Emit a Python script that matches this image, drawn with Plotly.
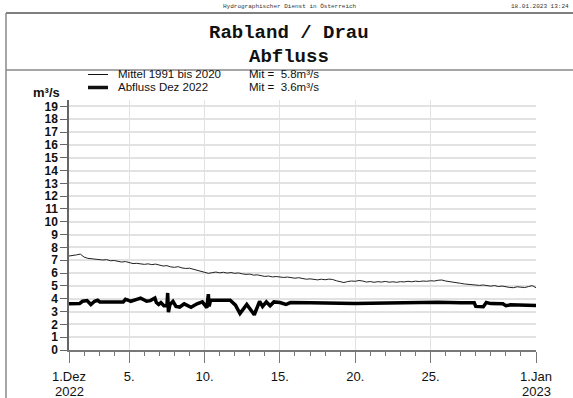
import pandas as pd
import plotly.graph_objects as go

# ---- data -------------------------------------------------------------
start = pd.Timestamp("2022-12-01")

# long-term mean 1991-2020, one value every 6 hours (days since 1 Dec)
mittel_step = 0.25
mittel_vals = [
    7.33, 7.35, 7.42, 7.48, 7.25, 7.15, 7.12, 7.08, 7.10, 7.02, 7.05, 6.96,
    6.98, 6.90, 6.86, 6.90, 6.80, 6.74, 6.76, 6.70, 6.68, 6.72, 6.66, 6.70,
    6.62, 6.55, 6.58, 6.48, 6.45, 6.50, 6.40, 6.36, 6.38, 6.30, 6.26, 6.20,
    6.12, 5.98, 6.03, 6.08, 6.02, 6.06, 6.00, 6.04, 5.98, 6.01, 5.94, 5.90,
    5.92, 5.84, 5.86, 5.78, 5.74, 5.77, 5.70, 5.73, 5.70, 5.66, 5.69, 5.62,
    5.60, 5.64, 5.56, 5.52, 5.55, 5.50, 5.47, 5.52, 5.48, 5.53, 5.50, 5.40,
    5.32, 5.26, 5.34, 5.38, 5.36, 5.42, 5.38, 5.30, 5.34, 5.28, 5.33, 5.30,
    5.35, 5.29, 5.32, 5.28, 5.33, 5.31, 5.36, 5.32, 5.37, 5.34, 5.38, 5.36,
    5.40, 5.38, 5.44, 5.46, 5.38, 5.32, 5.28, 5.24, 5.20, 5.15, 5.12, 5.08,
    5.10, 5.04, 5.07, 5.00, 4.98, 5.03, 4.95, 4.99, 4.92, 4.88, 4.86, 4.93,
    4.90, 4.87, 4.95, 5.02, 4.86,
]

# discharge December 2022 (days since 1 Dec, m³/s)
abfluss_days = [
    0.0, 0.7, 0.9, 1.2, 1.45, 1.7, 1.9, 2.05, 3.6, 3.75, 4.0, 4.1, 4.5, 4.75,
    5.0, 5.15, 5.4, 5.55, 5.7, 5.8, 5.95, 6.1, 6.3, 6.5, 6.55, 6.6, 6.7, 6.9,
    7.1, 7.35, 7.65, 8.1, 8.5, 8.85, 9.15, 9.25, 9.3, 9.4, 10.7, 11.05, 11.35,
    11.8, 12.3, 12.65, 12.85, 13.1, 13.35, 13.6, 14.0, 14.4, 14.7, 16.0, 17.0,
    18.0, 19.0, 20.0, 21.0, 22.0, 23.0, 23.5, 24.5, 26.0, 26.9, 27.0, 27.5,
    27.7, 28.0, 28.8, 29.0, 29.3, 31.0,
]
abfluss_vals = [
    3.60, 3.62, 3.80, 3.85, 3.55, 3.80, 3.88, 3.75, 3.75, 3.95, 3.85, 3.80,
    3.95, 4.05, 3.90, 3.80, 3.85, 3.95, 4.05, 3.70, 3.55, 3.70, 3.45, 3.45,
    4.45, 2.95, 3.55, 3.80, 3.40, 3.35, 3.60, 3.33, 3.60, 3.75, 3.30, 4.35,
    3.40, 3.90, 3.88, 3.50, 2.85, 3.55, 2.75, 3.80, 3.40, 3.75, 3.45, 3.75,
    3.70, 3.55, 3.70, 3.68, 3.65, 3.62, 3.62, 3.65, 3.68, 3.70, 3.72, 3.75,
    3.72, 3.68, 3.68, 3.40, 3.38, 3.70, 3.62, 3.60, 3.45, 3.52, 3.48,
]

tick_days = [0, 4, 9, 14, 19, 24, 31]
tick_text = ["1.Dez", "5.", "10.", "15.", "20.", "25.", "1.Jan"]
year_labels = [(0, "2022"), (31, "2023")]

legend_rows = [
    ("Mittel 1991 bis 2020", "Mit =  5.8m³/s", 1),
    ("Abfluss Dez 2022", "Mit =  3.6m³/s", 3.5),
]

# ---- geometry ---------------------------------------------------------
W, H = 573, 398
L, R, T, B = 69, 37, 100, 48
PW, PH = W - L - R, H - T - B


def px(x):
    return (x - L) / PW


def py(y):
    return (H - B - y) / PH


mittel_x = [start + pd.Timedelta(days=i * mittel_step) for i in range(len(mittel_vals))]
abfluss_x = [start + pd.Timedelta(days=d) for d in abfluss_days]
tick_x = [start + pd.Timedelta(days=d) for d in tick_days]

fig = go.Figure()
fig.add_trace(go.Scatter(x=mittel_x, y=mittel_vals, mode="lines",
                         line=dict(color="#222", width=1), hoverinfo="skip"))
fig.add_trace(go.Scatter(x=abfluss_x, y=abfluss_vals, mode="lines",
                         line=dict(color="#000", width=3.5), hoverinfo="skip"))

shapes = [
    dict(type="line", xref="paper", yref="paper", x0=px(6), x1=px(W + 5),
         y0=py(13), y1=py(13), line=dict(color="#555", width=1.5)),
    dict(type="line", xref="paper", yref="paper", x0=px(6), x1=px(W + 5),
         y0=py(70), y1=py(70), line=dict(color="#888", width=1.5)),
    dict(type="line", xref="paper", yref="paper", x0=px(6), x1=px(6),
         y0=py(13), y1=py(H + 5), line=dict(color="#888", width=1.5)),
]

ann = [
    dict(text="Hydrographischer Dienst in Österreich", x=px(290), y=py(6),
         font=dict(family="Liberation Mono", size=6, color="#333")),
    dict(text="18.01.2023 13:24", x=px(571), y=py(6), xanchor="right",
         font=dict(family="Liberation Mono", size=6, color="#333")),
    dict(text="<b>Rabland / Drau</b>", x=px(289), y=py(33),
         font=dict(family="Liberation Mono", size=19, color="#111")),
    dict(text="<b>Abfluss</b>", x=px(289), y=py(57),
         font=dict(family="Liberation Mono", size=19, color="#111")),
    dict(text="<b>m³/s</b>", x=px(31), y=py(92), xanchor="left",
         font=dict(family="Liberation Sans", size=13, color="#111")),
]

for i, (name, mean_txt, lw) in enumerate(legend_rows):
    yy = 74.5 + i * 13
    shapes.append(dict(type="line", xref="paper", yref="paper", x0=px(88), x1=px(108),
                       y0=py(yy), y1=py(yy), line=dict(color="#111", width=lw)))
    ann.append(dict(text=name, x=px(116), y=py(yy), xanchor="left",
                    font=dict(family="Liberation Sans", size=11.5, color="#111")))
    ann.append(dict(text=mean_txt, x=px(247), y=py(yy), xanchor="left",
                    font=dict(family="Liberation Sans", size=11.5, color="#111")))

for a in ann:
    a.update(xref="paper", yref="paper", showarrow=False, yanchor="middle")
    a.setdefault("xanchor", "center")

# year line under the first and last date tick
for d, yr in year_labels:
    ann.append(dict(text=yr, x=start + pd.Timedelta(days=d), y=py(391),
                    xref="x", yref="paper", showarrow=False,
                    xanchor="center", yanchor="middle",
                    font=dict(family="Liberation Sans", size=13, color="#111")))

fig.update_layout(
    width=W, height=H,
    margin=dict(l=L, r=R, t=T, b=B, autoexpand=False),
    paper_bgcolor="white", plot_bgcolor="white",
    showlegend=False,
    shapes=shapes, annotations=ann,
    xaxis=dict(
        type="date", automargin=False,
        range=[start, start + pd.Timedelta(days=31)],
        tickmode="array", tickvals=tick_x, ticktext=tick_text,
        ticks="outside", ticklen=11, tickcolor="#777", tickwidth=1,
        ticklabelstandoff=3,
        showline=True, linecolor="#777", linewidth=1.5,
        showgrid=True, gridcolor="#e2e2e2", gridwidth=1.2,
        zeroline=False,
        tickfont=dict(family="Liberation Sans", size=13, color="#111"),
        minor=dict(ticks="outside", ticklen=4, tickcolor="#777",
                   dtick=86400000, tick0=start, showgrid=False),
    ),
    yaxis=dict(
        range=[0, 19.5], automargin=False,
        tickmode="linear", tick0=0, dtick=1,
        ticks="outside", ticklen=7, tickcolor="#666",
        showline=True, linecolor="#666", linewidth=1.5,
        showgrid=True, gridcolor="#e2e2e2", gridwidth=1.5,
        zeroline=False,
        tickfont=dict(family="Liberation Sans", size=12, color="#111", weight="bold"),
    ),
)

fig.write_html("out.html")
